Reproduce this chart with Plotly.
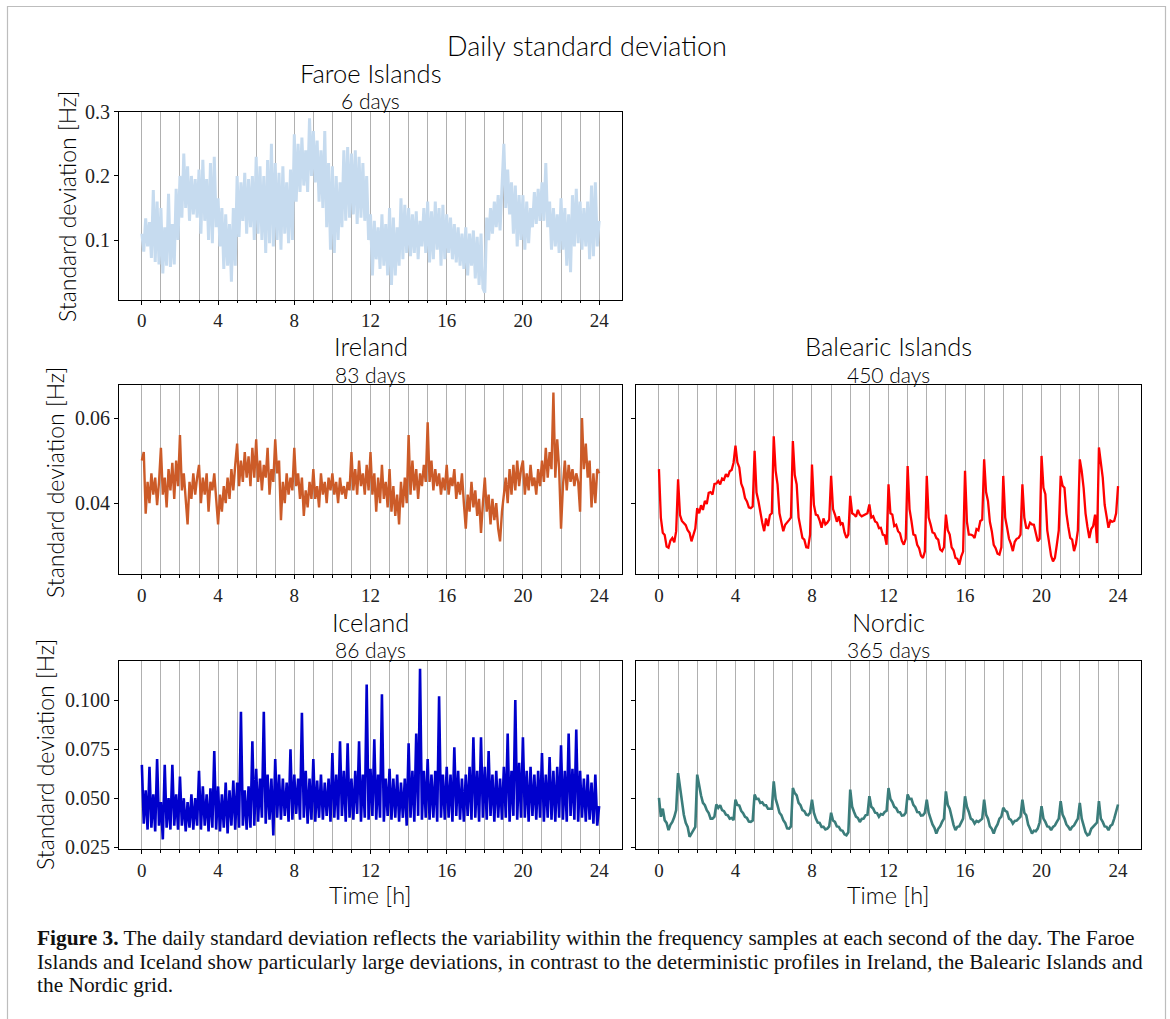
import plotly.graph_objects as go

W, H = 1170, 1019

# ---- data, 10 samples per hour, 0 h .. 24 h ----
# Faroe Islands, units of 0.001 Hz
faroe = [
    110, 82, 134, 90, 128, 72, 178, 66, 160, 62,
    150, 48, 120, 60, 172, 58, 125, 62, 180, 100,
    200, 135, 235, 150, 215, 130, 200, 140, 195, 135,
    210, 110, 225, 130, 195, 100, 220, 95, 230, 120,
    165, 90, 150, 55, 140, 60, 125, 35, 150, 60,
    200, 105, 190, 130, 205, 110, 195, 120, 200, 100,
    230, 110, 215, 100, 200, 80, 225, 95, 250, 90,
    220, 100, 205, 85, 215, 110, 190, 95, 210, 100,
    265, 160, 250, 175, 260, 185, 240, 175, 290, 200,
    270, 190, 255, 160, 240, 150, 270, 120, 220, 85,
    215, 80, 200, 100, 190, 120, 240, 130, 245, 135,
    235, 140, 240, 125, 230, 135, 220, 130, 200, 100,
    140, 45, 130, 70, 120, 55, 140, 60, 125, 45,
    150, 30, 135, 45, 120, 60, 165, 70, 155, 80,
    150, 75, 140, 80, 145, 70, 130, 90, 150, 80,
    160, 65, 145, 70, 160, 85, 150, 60, 155, 70,
    140, 80, 135, 70, 125, 65, 120, 60, 110, 55,
    120, 45, 110, 60, 115, 40, 105, 30, 110, 25,
    18, 135, 100, 150, 110, 160, 120, 170, 115, 175,
    250, 150, 210, 140, 190, 110, 185, 90, 170, 100,
    170, 85, 160, 95, 150, 120, 175, 125, 180, 130,
    190, 130, 220, 120, 160, 85, 150, 90, 140, 80,
    165, 85, 150, 60, 140, 50, 170, 90, 180, 95,
    160, 85, 150, 90, 160, 70, 185, 75, 190, 90,
    130,
]

# Ireland, units of 0.0001 Hz
ireland = [
    500, 520, 375, 450, 400, 470, 420, 460, 395, 450,
    530, 420, 460, 390, 480, 430, 495, 410, 500, 440,
    560, 430, 470, 400, 350, 450, 410, 470, 420, 460,
    490, 400, 460, 420, 470, 380, 450, 430, 470, 410,
    350, 420, 380, 440, 400, 460, 410, 480, 430, 490,
    540, 440, 500, 450, 520, 460, 510, 440, 530, 460,
    550, 450, 500, 430, 490, 460, 530, 420, 480, 450,
    550, 470, 500, 360, 450, 400, 470, 420, 460, 430,
    530, 440, 470, 410, 460, 370, 430, 390, 450, 410,
    480, 410, 440, 390, 470, 420, 450, 400, 460, 430,
    470, 420, 450, 400, 460, 420, 440, 410, 450, 430,
    520, 430, 480, 420, 500, 440, 470, 420, 490, 430,
    520, 420, 470, 380, 460, 400, 490, 410, 450, 390,
    480, 380, 440, 370, 420, 350, 450, 390, 460, 400,
    560, 420, 500, 430, 480, 410, 470, 440, 490, 450,
    590, 450, 500, 430, 480, 440, 470, 420, 460, 430,
    490, 420, 460, 440, 480, 410, 450, 420, 470, 400,
    340, 420, 380, 450, 390, 430, 370, 410, 330, 400,
    460, 380, 420, 350, 410, 360, 400, 340, 310, 380,
    420, 460, 400, 480, 420, 490, 430, 500, 440, 480,
    500, 420, 470, 430, 490, 440, 460, 420, 480, 440,
    500, 450, 530, 460, 520, 480, 660, 460, 550, 480,
    340, 440, 500, 430, 490, 450, 480, 440, 470, 450,
    380, 600, 480, 540, 460, 500, 390, 470, 400, 480,
    470,
]

# Balearic Islands, units of 0.0001 Hz
balearic = [
    480, 365, 330, 325, 298, 295, 312, 318, 308, 334,
    456, 372, 358, 352, 348, 336, 330, 310, 324, 340,
    388, 376, 395, 384, 405, 398, 424, 426, 420, 445,
    446, 452, 444, 458, 455, 468, 462, 475, 478, 495,
    535, 496, 484, 446, 434, 412, 404, 390, 388, 392,
    523, 425, 405, 376, 354, 334, 364, 346, 372, 376,
    557, 476, 444, 376, 354, 334, 349, 356, 360, 366,
    546, 466, 444, 366, 344, 318, 314, 296, 295, 326,
    491, 396, 373, 371, 359, 342, 364, 350, 354, 361,
    464, 386, 373, 356, 369, 350, 354, 331, 318, 326,
    417, 376, 373, 368, 384, 373, 369, 371, 374, 376,
    397, 366, 369, 357, 354, 341, 342, 326, 324, 302,
    444, 376, 373, 346, 349, 334, 329, 311, 302, 316,
    487, 386, 358, 326, 324, 302, 294, 276, 271, 286,
    464, 366, 350, 331, 329, 318, 314, 291, 287, 296,
    373, 336, 326, 296, 289, 271, 269, 255, 274, 286,
    476, 356, 326, 326, 324, 318, 339, 336, 358, 361,
    503, 426, 405, 356, 334, 302, 294, 281, 279, 296,
    464, 366, 342, 316, 304, 287, 309, 316, 318, 326,
    444, 366, 342, 341, 354, 350, 349, 326, 310, 316,
    511, 436, 421, 336, 310, 276, 263, 271, 302, 336,
    464, 441, 436, 376, 344, 318, 314, 287, 304, 336,
    503, 476, 436, 376, 344, 318, 339, 346, 373, 306,
    531, 496, 460, 396, 364, 342, 359, 356, 358, 376,
    440,
]

# Iceland, units of 0.0001 Hz
iceland = [
    670, 370, 540, 340, 660, 350, 520, 330, 700, 360,
    480, 290, 670, 350, 500, 340, 670, 360, 520, 340,
    610, 360, 500, 330, 480, 350, 520, 340, 500, 360,
    640, 340, 560, 360, 520, 330, 550, 350, 740, 340,
    560, 330, 520, 350, 580, 320, 540, 360, 590, 340,
    580, 350, 940, 360, 540, 340, 560, 350, 790, 360,
    650, 380, 600, 400, 940, 370, 620, 390, 600, 310,
    700, 400, 620, 390, 600, 410, 580, 380, 750, 390,
    620, 420, 600, 390, 935, 400, 640, 370, 600, 390,
    700, 380, 590, 400, 620, 390, 580, 410, 600, 380,
    730, 400, 620, 390, 790, 410, 640, 380, 780, 400,
    600, 390, 640, 420, 790, 380, 620, 400, 1080, 390,
    650, 410, 800, 390, 620, 400, 1030, 380, 600, 410,
    650, 390, 600, 400, 620, 380, 580, 400, 600, 360,
    780, 400, 640, 380, 830, 410, 1160, 390, 640, 400,
    700, 390, 620, 400, 640, 380, 1020, 400, 620, 390,
    660, 400, 620, 380, 760, 410, 640, 390, 600, 380,
    620, 410, 660, 390, 810, 400, 640, 380, 810, 400,
    660, 390, 740, 410, 620, 380, 640, 400, 600, 390,
    660, 400, 830, 380, 640, 410, 1000, 390, 680, 400,
    810, 400, 640, 380, 660, 410, 620, 390, 640, 400,
    730, 380, 620, 400, 710, 390, 640, 380, 660, 400,
    770, 390, 640, 380, 830, 410, 650, 390, 850, 380,
    640, 400, 600, 380, 620, 390, 580, 370, 620, 360,
    460,
]

# Nordic, units of 0.0001 Hz
nordic = [
    502, 405, 447, 388, 374, 337, 364, 379, 404, 439,
    628, 556, 497, 416, 374, 354, 303, 320, 344, 354,
    620, 556, 514, 476, 464, 439, 424, 396, 396, 406,
    468, 451, 464, 439, 434, 416, 413, 396, 399, 388,
    493, 466, 463, 436, 424, 405, 399, 381, 379, 386,
    519, 496, 497, 476, 479, 464, 464, 446, 447, 446,
    586, 496, 463, 426, 414, 388, 374, 346, 345, 356,
    552, 526, 514, 476, 464, 439, 434, 416, 413, 426,
    493, 426, 396, 376, 374, 354, 354, 341, 345, 356,
    426, 386, 379, 356, 354, 337, 334, 316, 311, 326,
    544, 456, 430, 406, 399, 379, 394, 396, 413, 416,
    510, 456, 447, 426, 424, 405, 419, 416, 430, 436,
    552, 496, 480, 456, 449, 430, 429, 411, 413, 426,
    519, 496, 497, 466, 454, 430, 429, 411, 413, 426,
    493, 426, 396, 366, 349, 320, 344, 356, 379, 396,
    535, 466, 447, 396, 364, 337, 354, 356, 379, 396,
    510, 456, 430, 396, 389, 371, 384, 379, 387, 396,
    493, 416, 396, 356, 344, 320, 349, 366, 396, 406,
    451, 436, 430, 396, 389, 371, 384, 386, 396, 406,
    493, 426, 413, 366, 344, 320, 334, 331, 345, 376,
    459, 396, 379, 356, 354, 337, 354, 361, 379, 396,
    485, 416, 396, 366, 354, 337, 354, 361, 379, 396,
    476, 396, 362, 326, 311, 316, 344, 354, 364, 376,
    485, 396, 379, 356, 354, 337, 359, 366, 396, 426,
    468,
]

time_h = [i / 10 for i in range(241)]
major_hours = [0, 4, 8, 12, 16, 20, 24]
all_hours = list(range(25))

titles = ["Faroe Islands", "Ireland", "Balearic Islands", "Iceland", "Nordic"]
days = ["6 days", "83 days", "450 days", "86 days", "365 days"]

# ---- layout helpers ----
def fx(p):
    return p / W

def fy(p):
    return 1 - p / H

SANS = "Lato, 'Open Sans', sans-serif"
SERIF = "'Liberation Serif', 'DejaVu Serif', serif"
GRID = "#b0b0b0"
TXT = "#000000"

panels = [
    dict(vals=faroe, unit=1e-3, color="#c6dbef", lw=3.0, box=(119, 622, 111.5, 299.5),
         yr=[0.0073, 0.3005], yt=[0.1, 0.2, 0.3], ytt=["0.1", "0.2", "0.3"], lab=True),
    dict(vals=ireland, unit=1e-4, color="#cc5b28", lw=2.4, box=(119, 622, 385, 574),
         yr=[0.02332, 0.06779], yt=[0.04, 0.06], ytt=["0.04", "0.06"], lab=True),
    dict(vals=balearic, unit=1e-4, color="#ff0000", lw=2.3, box=(636, 1141, 385, 574),
         yr=[0.02332, 0.06779], yt=[0.04, 0.06], ytt=["0.04", "0.06"], lab=False),
    dict(vals=iceland, unit=1e-4, color="#0000cc", lw=2.6, box=(119, 622, 660.5, 849),
         yr=[0.0241, 0.1202], yt=[0.025, 0.05, 0.075, 0.1],
         ytt=["0.025", "0.050", "0.075", "0.100"], lab=True),
    dict(vals=nordic, unit=1e-4, color="#3b7d7b", lw=2.6, box=(636, 1141, 660.5, 849),
         yr=[0.0241, 0.1202], yt=[0.025, 0.05, 0.075, 0.1],
         ytt=["0.025", "0.050", "0.075", "0.100"], lab=False),
]

fig = go.Figure()
layout = dict(
    width=W, height=H, margin=dict(l=0, r=0, t=0, b=0),
    paper_bgcolor="white", plot_bgcolor="white", showlegend=False,
    template="none",
)

annotations = []
for i, p in enumerate(panels):
    k = "" if i == 0 else str(i + 1)
    y = [v * p["unit"] for v in p["vals"]]
    fig.add_trace(go.Scatter(
        x=time_h, y=y, mode="lines",
        line=dict(color=p["color"], width=p["lw"]),
        xaxis="x" + k, yaxis="y" + k, hoverinfo="skip",
    ))
    x0, x1, y0, y1 = p["box"]
    layout["xaxis" + k] = dict(
        domain=[fx(x0), fx(x1)], range=[-1.2, 25.2], anchor="y" + k,
        tickmode="array", tickvals=major_hours, ticktext=[str(h) for h in major_hours],
        ticks="outside", ticklen=4, tickwidth=1, tickcolor="black",
        showgrid=True, gridcolor=GRID, gridwidth=1,
        minor=dict(tickmode="array", tickvals=all_hours, ticks="outside", ticklen=2.5,
                   tickwidth=1, tickcolor="black", showgrid=True, gridcolor=GRID, gridwidth=1),
        showline=True, linecolor="black", linewidth=1, mirror=True,
        zeroline=False, automargin=False,
        tickfont=dict(family=SERIF, size=19, color="#222"),
    )
    layout["yaxis" + k] = dict(
        domain=[fy(y1), fy(y0)], range=p["yr"], anchor="x" + k,
        tickmode="array", tickvals=p["yt"], ticktext=p["ytt"],
        showticklabels=p["lab"],
        ticks="outside", ticklen=4, tickwidth=1, tickcolor="black",
        showgrid=False, zeroline=False,
        showline=True, linecolor="black", linewidth=1, mirror=True, automargin=False,
        tickfont=dict(family=SERIF, size=20, color="#222"),
    )
    cx = (x0 + x1) / 2
    annotations.append(dict(text=titles[i], x=fx(cx), y=fy(y0 - 39), xref="paper", yref="paper",
                            showarrow=False, xanchor="center", yanchor="middle",
                            font=dict(family=SANS, size=25.5, color=TXT, weight=300)))
    annotations.append(dict(text=days[i], x=fx(cx), y=fy(y0 - 11), xref="paper", yref="paper",
                            showarrow=False, xanchor="center", yanchor="middle",
                            font=dict(family=SANS, size=21, color=TXT, weight=300)))

# super title
annotations.append(dict(text="Daily standard deviation", x=fx(587), y=fy(45), xref="paper", yref="paper",
                        showarrow=False, xanchor="center", yanchor="middle",
                        font=dict(family=SANS, size=27, color=TXT, weight=300)))
# y-axis titles
for xc, yc in [(67, 207), (55, 483), (45, 755)]:
    annotations.append(dict(text="Standard deviation [Hz]", x=fx(xc), y=fy(yc), xref="paper", yref="paper",
                            showarrow=False, textangle=-90, xanchor="center", yanchor="middle",
                            font=dict(family=SANS, size=23, color=TXT, weight=300)))
# x-axis titles
for xc in [370, 888]:
    annotations.append(dict(text="Time [h]", x=fx(xc), y=fy(895), xref="paper", yref="paper",
                            showarrow=False, xanchor="center", yanchor="middle",
                            font=dict(family=SANS, size=23.5, color=TXT, weight=300)))
# caption
cap = [
    "<b>Figure 3.</b> The daily standard deviation reflects the variability within the frequency samples at each second of the day. The Faroe",
    "Islands and Iceland show particularly large deviations, in contrast to the deterministic profiles in Ireland, the Balearic Islands and",
    "the Nordic grid.",
]
for j, line in enumerate(cap):
    annotations.append(dict(text=line, x=fx(35), y=fy(938 + 23.5 * j), xref="paper", yref="paper",
                            showarrow=False, xanchor="left", yanchor="middle",
                            font=dict(family=SERIF, size=21.4, color="#111")))

layout["annotations"] = annotations
layout["shapes"] = [dict(type="rect", xref="paper", yref="paper",
                         x0=fx(7.5), x1=fx(1165.5), y0=-0.05, y1=fy(6.5),
                         line=dict(color="#bdbdbd", width=1.2), fillcolor="rgba(0,0,0,0)")]
fig.update_layout(**layout)
fig.write_html("out.html")
